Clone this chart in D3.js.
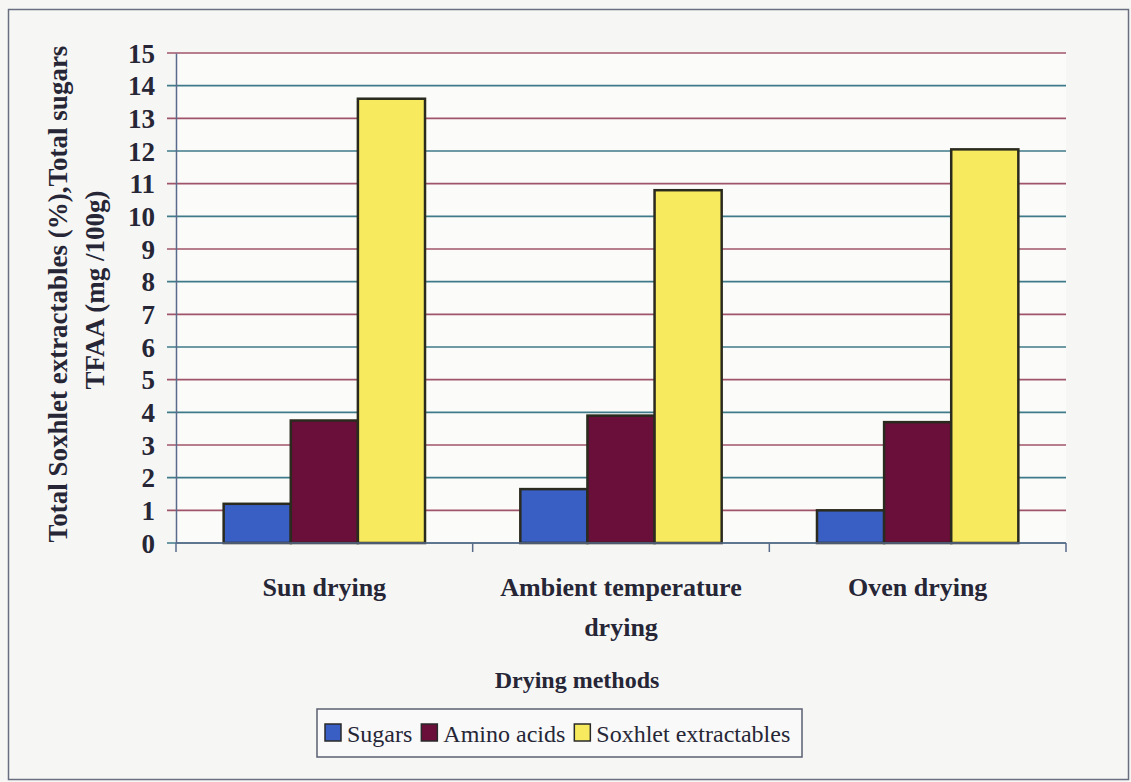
<!DOCTYPE html>
<html>
<head>
<meta charset="utf-8">
<script src="https://cdn.jsdelivr.net/npm/d3@7"></script>
<style>
  body { margin: 0; background: #f6f7f5; }
  svg { display: block; }
  svg text { font-family: "Times New Roman", Tinos, "Liberation Serif", "DejaVu Serif", serif; font-weight: bold; fill: #262636; }
</style>
</head>
<body>
<div class="canvas"></div>
<script>
const methods = ["Sun drying", "Ambient temperature drying", "Oven drying"];
const methodLines = [["Sun drying"], ["Ambient temperature", "drying"], ["Oven drying"]];
const seriesNames = ["Sugars", "Amino acids", "Soxhlet extractables"];
const sugars = [1.2, 1.65, 1.0];
const aminoAcids = [3.75, 3.9, 3.7];
const soxhlet = [13.6, 10.8, 12.05];
const yTicks = [0, 1, 2, 3, 4, 5, 6, 7, 8, 9, 10, 11, 12, 13, 14, 15];
const colors = ["#3a5fc4", "#6a0f3a", "#f7ea5e"];

const seriesValues = [sugars, aminoAcids, soxhlet];
const serif = "'Times New Roman', Tinos, 'Liberation Serif', serif";

const w = 1131;
const h = 782;

const svg = d3.select(".canvas")
  .append("svg")
  .attr("width", w)
  .attr("height", h);

// outer frame
svg.append("rect")
  .attr("x", 8.5).attr("y", 9.5)
  .attr("width", 1120).attr("height", 770)
  .attr("fill", "#f6f7f5")
  .attr("stroke", "#6a6f80")
  .attr("stroke-width", 1.5);

const margin = { top: 53, left: 176, right: 1066, bottom: 543 };

const y = d3.scaleLinear()
  .domain([0, 15])
  .range([margin.bottom, margin.top]);

const x = d3.scaleBand()
  .domain(methods)
  .range([margin.left, margin.right]);

const xInner = d3.scaleBand()
  .domain(seriesNames)
  .range([0, x.bandwidth()])
  .paddingOuter(0.71);

// plot background
svg.append("rect")
  .attr("x", margin.left).attr("y", margin.top)
  .attr("width", margin.right - margin.left)
  .attr("height", margin.bottom - margin.top)
  .attr("fill", "#fbfbfa");

// gridlines, odd ones reddish, even ones teal like the scan
svg.append("g")
  .selectAll("line")
  .data(yTicks)
  .enter()
  .append("line")
  .attr("x1", margin.left - 9)
  .attr("x2", margin.right)
  .attr("y1", d => y(d))
  .attr("y2", d => y(d))
  .attr("stroke", d => d % 2 ? "#a0546a" : "#3f7a88")
  .attr("stroke-width", 1.6);

// bars
const groups = svg.append("g")
  .selectAll("g")
  .data(methods)
  .enter()
  .append("g")
  .attr("transform", d => `translate(${x(d)},0)`);

groups.selectAll("rect")
  .data((d, i) => seriesNames.map((s, j) => ({ s, v: seriesValues[j][i], c: colors[j] })))
  .enter()
  .append("rect")
  .attr("x", d => xInner(d.s))
  .attr("width", xInner.bandwidth())
  .attr("y", d => y(d.v))
  .attr("height", d => y(0) - y(d.v))
  .attr("fill", d => d.c)
  .attr("stroke", "#2a2a1e")
  .attr("stroke-width", 2.5);

// axes
const yAxis = d3.axisLeft(y).tickValues(yTicks).tickSize(0).tickPadding(21);
const yAxisGroup = svg.append("g")
  .attr("transform", `translate(${margin.left},0)`)
  .call(yAxis);
yAxisGroup.attr("font-family", serif).attr("font-size", 27);
yAxisGroup.select(".domain").attr("stroke", "#5a6a8a").attr("stroke-width", 1.5);
yAxisGroup.selectAll("text")
  .attr("dy", "0.34em")
  .attr("fill", "#262636");

const xAxis = d3.axisBottom(x).tickSize(0).tickFormat("");
const xAxisGroup = svg.append("g")
  .attr("transform", `translate(0,${margin.bottom})`)
  .call(xAxis);
xAxisGroup.select(".domain").remove();
xAxisGroup.append("line")
  .attr("x1", margin.left).attr("x2", margin.right)
  .attr("stroke", "#5a6a8a").attr("stroke-width", 1.5);
xAxisGroup.selectAll(".sep")
  .data(methods.concat(["end"]))
  .enter()
  .append("line")
  .attr("x1", (d, i) => i < methods.length ? x(d) : margin.right)
  .attr("x2", (d, i) => i < methods.length ? x(d) : margin.right)
  .attr("y1", 0).attr("y2", 9)
  .attr("stroke", "#5a6a8a").attr("stroke-width", 1.5);

// category labels
const catLabels = svg.append("g")
  .selectAll("text")
  .data(methods)
  .enter()
  .append("text")
  .attr("text-anchor", "middle")
  .attr("font-size", 26)
  .attr("transform", d => `translate(${x(d) + x.bandwidth() / 2},596)`);
catLabels.selectAll("tspan")
  .data((d, i) => methodLines[i])
  .enter()
  .append("tspan")
  .attr("x", 0)
  .attr("dy", (d, i) => i === 0 ? 0 : 40)
  .text(d => d);

// axis titles
svg.append("text")
  .attr("text-anchor", "middle")
  .attr("font-size", 24)
  .attr("x", 577).attr("y", 688)
  .text("Drying methods");

svg.append("text")
  .attr("text-anchor", "middle")
  .attr("font-size", 27)
  .attr("transform", "translate(67,294) rotate(-90)")
  .text("Total Soxhlet extractables (%),Total sugars");
svg.append("text")
  .attr("text-anchor", "middle")
  .attr("font-size", 27)
  .attr("transform", "translate(104,290) rotate(-90)")
  .text("TFAA (mg /100g)");

// legend
const legend = svg.append("g").attr("transform", "translate(317,709)");
legend.append("rect")
  .attr("width", 485).attr("height", 48)
  .attr("fill", "#f8f9f8")
  .attr("stroke", "#5a6070").attr("stroke-width", 1.5);
let lx = 8;
seriesNames.forEach((name, i) => {
  const item = legend.append("g").attr("transform", `translate(${lx},0)`);
  item.append("rect")
    .attr("x", 0).attr("y", 15)
    .attr("width", 16).attr("height", 17)
    .attr("fill", colors[i])
    .attr("stroke", "#2a2a2a").attr("stroke-width", 1.5);
  const t = item.append("text")
    .attr("x", 22).attr("y", 33)
    .attr("font-size", 24)
    .style("font-weight", "normal")
    .text(name);
  lx += 22 + t.node().getComputedTextLength() + 9;
});
</script>
</body>
</html>
